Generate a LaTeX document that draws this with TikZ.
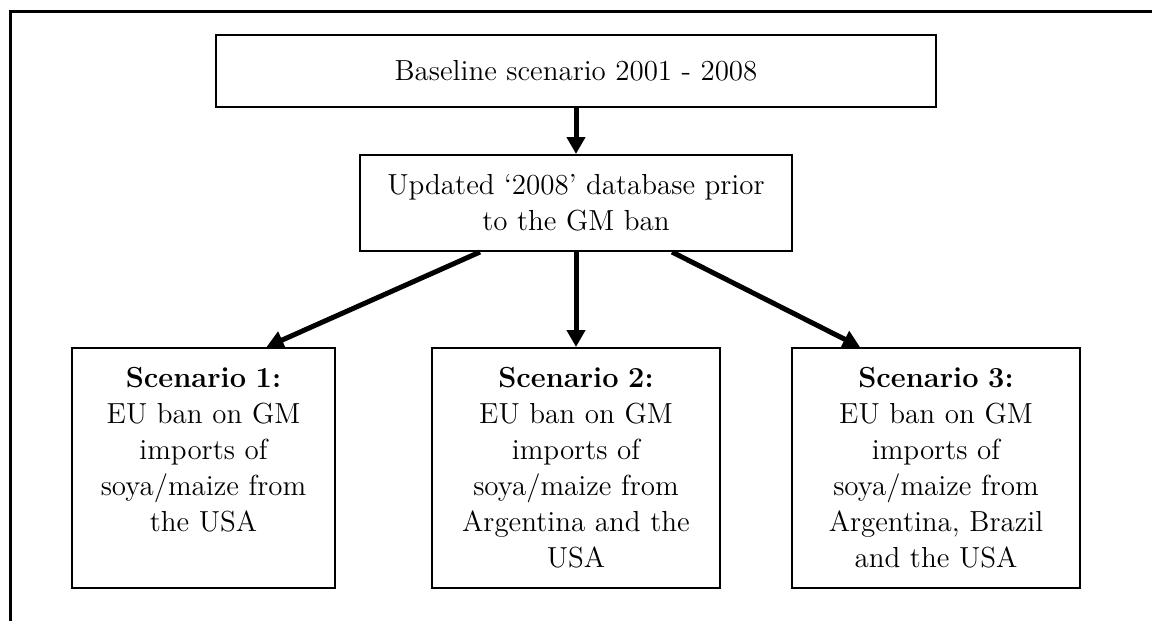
\documentclass[tikz,border=0pt]{standalone}
\usetikzlibrary{arrows.meta, calc, positioning}

\begin{document}
\begin{tikzpicture}[x=0.5pt, y=-0.5pt, >={Triangle[length=8.5pt, width=9pt]},
  every node/.style={font=\fontsize{14.5}{18}\selectfont},
  boite/.style={draw, line width=1pt, align=center, inner sep=0pt},
  scenboite/.style={boite, anchor=north, text width=#1, minimum width=#1,
    inner ysep=4pt, text height=15.5pt, text depth=96.5pt},
  fleche/.style={->, line width=2.5pt}]

  % === CADRE (1 unite = 1 px de la figure) ===
  \useasboundingbox (0,0) rectangle (1152,621);
  \draw[line width=1.5pt] (1152,11) -- (10,11) -- (10,621);

  % === BOITES ===
  \node[boite, minimum width=360pt, minimum height=36pt] (base) at (576,71)
    {Baseline scenario 2001 - 2008};
  \node[boite, minimum width=216pt, minimum height=48pt] (maj) at (576,203)
    {Updated `2008' database prior\\to the GM ban};

  % Scenarios (ancre en haut)
  \node[scenboite=131.5pt] (scen1) at (203.5,347)
    {\textbf{Scenario 1:}\\EU ban on GM\\imports of\\soya/maize from\\the USA};
  \node[scenboite=144pt] (scen2) at (576,347)
    {\textbf{Scenario 2:}\\EU ban on GM\\imports of\\soya/maize from\\Argentina and the\\USA};
  \node[scenboite=144pt] (scen3) at (936,347)
    {\textbf{Scenario 3:}\\EU ban on GM\\imports of\\soya/maize from\\Argentina, Brazil\\and the USA};

  % === FLECHES ===
  \draw[fleche] (base.south) -- (maj.north);
  \draw[fleche] ($(maj.south)+(-96,0)$) -- ($(scen1.north)+(63,0)$);
  \draw[fleche] (maj.south) -- (scen2.north);
  \draw[fleche] ($(maj.south)+(96,0)$) -- ($(scen3.north)+(-76,0)$);

\end{tikzpicture}
\end{document}
